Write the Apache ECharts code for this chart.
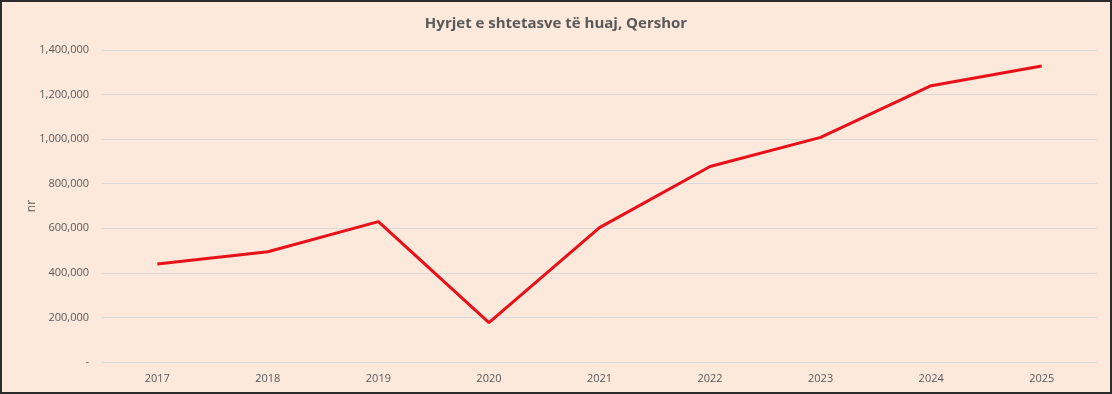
<!DOCTYPE html>
<html>
<head>
<meta charset="utf-8">
<script src="https://cdn.jsdelivr.net/npm/echarts@6/dist/echarts.min.js"></script>
<style>
html,body{margin:0;padding:0;background:#fce9db;}
#wrap{width:1112px;height:394px;box-sizing:border-box;border:2px solid #2b2b2b;background:#fce9db;}
#chart{width:1108px;height:390px;}
</style>
</head>
<body>
<div id="wrap"><div id="chart"></div></div>
<script>
const titleText = 'Hyrjet e shtetasve të huaj, Qershor';
const yAxisName = 'nr';
const categories = ['2017','2018','2019','2020','2021','2022','2023','2024','2025'];
const arrivals = [440000, 495000, 630000, 177000, 603000, 877000, 1008000, 1240000, 1328000];
const yMin = 0, yMax = 1400000, yStep = 200000;

const chart = echarts.init(document.getElementById('chart'), null, {renderer:'canvas'});
const font = '"Open Sans", "Noto Sans", sans-serif';
chart.setOption({
  backgroundColor: '#fce9db',
  animation: false,
  title: {
    text: titleText, left: 'center', top: 9,
    textStyle: {fontFamily: font, fontSize: 15, fontWeight: 'bold', color: '#595959'}
  },
  grid: {left: 100, right: 13, top: 48, bottom: 30, containLabel: false},
  xAxis: {
    type: 'category', data: categories, boundaryGap: true,
    axisLine: {show: false}, axisTick: {show: false},
    axisLabel: {color: '#595959', fontSize: 11, fontFamily: font, margin: 11}
  },
  yAxis: {
    type: 'value', min: yMin, max: yMax, interval: yStep,
    name: yAxisName, nameLocation: 'middle', nameGap: 64, nameRotate: 90,
    nameMoveOverlap: false,
    nameTextStyle: {color: '#595959', fontSize: 12, fontFamily: font},
    axisLine: {show: false}, axisTick: {show: false},
    splitLine: {lineStyle: {color: '#d9d9d9', width: 1}},
    axisLabel: {
      color: '#595959', fontSize: 11, fontFamily: font, margin: 13,
      formatter: v => v === 0 ? '-' : v.toLocaleString('en-US')
    }
  },
  series: [{
    type: 'line', data: arrivals, symbol: 'none',
    lineStyle: {color: '#e8111a', width: 3}
  }]
});
</script>
</body>
</html>
